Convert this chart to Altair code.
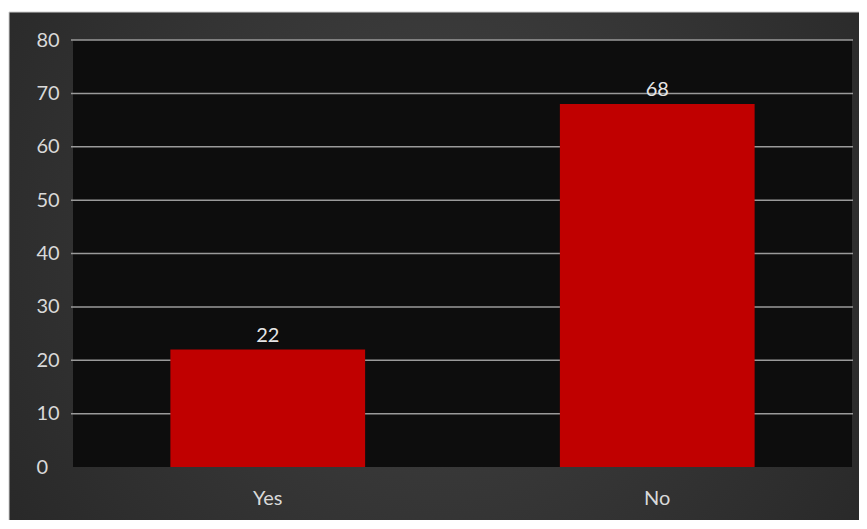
import altair as alt
import pandas as pd

categories = ["Yes", "No"]
values = [22, 68]
grid_ticks = [10, 20, 30, 40, 50, 60, 70, 80]
axis_ticks = [0, 10, 20, 30, 40, 50, 60, 70, 80]

W, H = 779, 427
FONT = "Lato"

bars_df = pd.DataFrame({"answer": categories, "count": values})
grid_df = pd.DataFrame({"tick": grid_ticks})
one = pd.DataFrame({"k": [0]})

bg_gradient = {
    "gradient": "radial",
    "x1": 0.5, "y1": 0.45, "r1": 0.0,
    "x2": 0.5, "y2": 0.45, "r2": 0.75,
    "stops": [
        {"offset": 0.0, "color": "#444444"},
        {"offset": 1.0, "color": "#222222"},
    ],
}

background = alt.Chart(one).mark_rect(fill=bg_gradient, stroke="#cfcfcf", strokeWidth=1).encode(
    x=alt.value(-64), x2=alt.value(W + 20), y=alt.value(-28), y2=alt.value(H + 70)
)
plot_bg = alt.Chart(one).mark_rect(fill="#0d0d0d").encode(
    x=alt.value(0), x2=alt.value(W), y=alt.value(0), y2=alt.value(H)
)

yscale = alt.Scale(domain=[0, 80], nice=False)
xscale = alt.Scale(domain=categories, paddingInner=0.5, paddingOuter=0.25)
yaxis = alt.Axis(title=None, values=axis_ticks, grid=False, domain=False, ticks=False,
                 labelPadding=37, labelAlign="left", labelFontSize=20,
                 labelColor="#d9d9d9", labelFont=FONT, zindex=1)

grid = alt.Chart(grid_df).mark_rule(color="#9a9a9a", strokeWidth=1.5).encode(
    y=alt.Y("tick:Q", scale=yscale, axis=yaxis),
    x=alt.value(-2), x2=alt.value(W + 1),
)

bars = alt.Chart(bars_df).mark_bar(color="#c00000").encode(
    x=alt.X("answer:N", scale=xscale, sort=categories,
            axis=alt.Axis(title=None, labelAngle=0, domain=False, ticks=False,
                          labelPadding=21, labelFontSize=20, labelColor="#d9d9d9",
                          labelFont=FONT, zindex=1)),
    y=alt.Y("count:Q", scale=yscale, axis=yaxis),
)

labels = alt.Chart(bars_df).mark_text(
    dy=-14, fontSize=20, color="#e6e6e6", font=FONT
).encode(
    x=alt.X("answer:N", scale=xscale, sort=categories),
    y=alt.Y("count:Q", scale=yscale, axis=yaxis),
    text=alt.Text("count:Q"),
)

chart = alt.layer(background, plot_bg, grid, bars, labels).properties(
    width=W, height=H,
    background="white",
    padding={"left": 65, "top": 32, "right": 7, "bottom": 53},
    autosize=alt.AutoSizeParams(type="none"),
).configure_view(stroke=None)

chart.save("out.html", embed_options={"renderer": "svg", "actions": False})
